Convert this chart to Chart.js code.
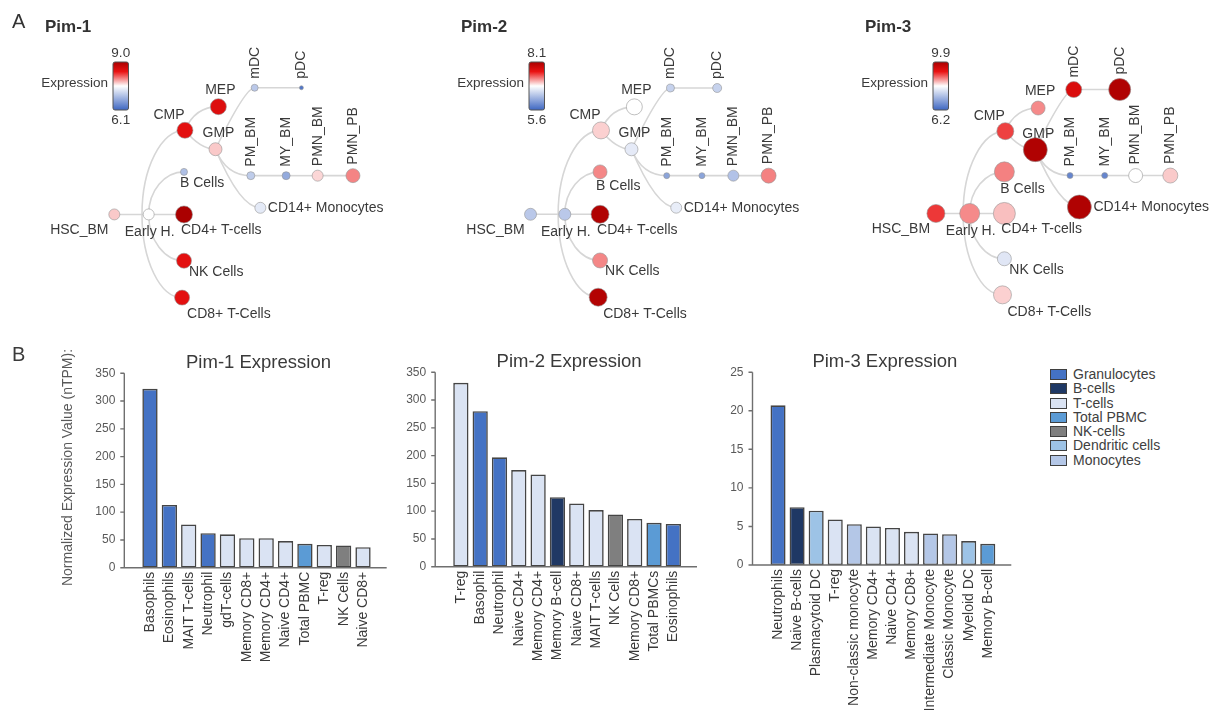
<!DOCTYPE html>
<html>
<head>
<meta charset="utf-8">
<script src="https://cdn.jsdelivr.net/npm/chart.js@4/dist/chart.umd.min.js"></script>
<style>
  body { margin: 0; background: #fff; width: 1231px; height: 710px; overflow: hidden; position: relative; font-family: "Liberation Sans", Arial, sans-serif; }
  .panel { position: absolute; }
  #legend { position: absolute; left: 1050px; top: 367px; font-size: 14px; line-height: 14.3px; color: #404040; }
  #legend .row { height: 14.3px; white-space: nowrap; }
  #legend .sw { display: inline-block; width: 15px; height: 9px; border: 1px solid #3f3f3f; margin-right: 6px; vertical-align: -1px; }
</style>
</head>
<body>
<div class="panel" style="left:0;top:0;width:410px;height:340px"><canvas id="tree1"></canvas></div>
<div class="panel" style="left:416px;top:0;width:410px;height:340px"><canvas id="tree2"></canvas></div>
<div class="panel" style="left:820px;top:0;width:410px;height:340px"><canvas id="tree3"></canvas></div>
<div class="panel" style="left:0;top:340px;width:400px;height:370px"><canvas id="bar1"></canvas></div>
<div class="panel" style="left:400px;top:340px;width:310px;height:370px"><canvas id="bar2"></canvas></div>
<div class="panel" style="left:700px;top:340px;width:340px;height:370px"><canvas id="bar3"></canvas></div>
<div id="legend"></div>
<script>
// ---- panel A: differentiation tree (shared layout) ----
const treeNodes = ['HSC_BM', 'Early H.', 'CD4+ T-cells', 'NK Cells', 'CD8+ T-Cells', 'B Cells', 'CMP', 'MEP', 'GMP',
  'mDC', 'pDC', 'PM_BM', 'MY_BM', 'PMN_BM', 'PMN_PB', 'CD14+ Monocytes'];
const treeX = [110, 146, 183, 183, 181, 183, 184, 219, 216, 257, 306, 253, 290, 323, 360, 263];
const treeY = [217, 217, 217, 266, 305, 172, 128, 103, 148, 83, 83, 176, 176, 176, 176, 210];
const treeParent = [-1, 0, 1, 1, 1, 1, 1, 6, 6, 8, 9, 8, 11, 12, 13, 8];

const pim1Range = [6.1, 9.0];
const pim1Expr = [7.75, 7.55, 9.0, 8.48, 8.48, 6.95, 8.48, 8.54, 7.75, 7.03, 6.25, 7.06, 6.74, 7.7, 8.0, 7.35];
const pim1Size = [5.5, 5.5, 8.5, 7.5, 7.5, 3.5, 8, 8, 6.5, 3.5, 2, 4, 4, 5.5, 7, 5.5];

const pim2Range = [5.6, 8.1];
const pim2Expr = [6.4, 6.4, 8.05, 7.23, 8.03, 7.23, 7.0, 6.85, 6.68, 6.48, 6.48, 6.1, 6.1, 6.35, 7.25, 6.7];
const pim2Size = [6, 6, 9, 7.5, 9, 7, 8.5, 8, 6.5, 4, 4.5, 3, 3, 5.5, 7.5, 5.5];

const pim3Range = [6.2, 9.9];
const pim3Expr = [8.98, 8.6, 8.35, 7.75, 8.27, 8.64, 8.94, 8.6, 9.83, 9.35, 9.83, 6.57, 6.57, 8.05, 8.3, 9.83];
const pim3Size = [9, 10, 11, 7, 9, 10, 8.5, 7, 12, 8, 11, 3, 3, 7, 7.5, 12];

// ---- panel B: normalized expression (nTPM) ----
const groupNames = ['Granulocytes', 'B-cells', 'T-cells', 'Total PBMC', 'NK-cells', 'Dendritic cells', 'Monocytes'];
const groupColors = ['#4472c4', '#1f3864', '#dae3f3', '#5b9bd5', '#7f7f7f', '#9dc3e6', '#b4c7e7'];

const pim1Cells = ['Basophils', 'Eosinophils', 'MAIT T-cells', 'Neutrophil', 'gdT-cells', 'Memory CD8+', 'Memory CD4+',
  'Naive CD4+', 'Total PBMC', 'T-reg', 'NK Cells', 'Naive CD8+'];
const pim1Values = [322, 113, 78, 62, 60, 53, 53, 48, 43, 41, 40, 37];
const pim1Groups = ['Granulocytes', 'Granulocytes', 'T-cells', 'Granulocytes', 'T-cells', 'T-cells', 'T-cells',
  'T-cells', 'Total PBMC', 'T-cells', 'NK-cells', 'T-cells'];

const pim2Cells = ['T-reg', 'Basophil', 'Neutrophil', 'Naive CD4+', 'Memory CD4+', 'Memory B-cell', 'Naive CD8+',
  'MAIT T-cells', 'NK Cells', 'Memory CD8+', 'Total PBMCs', 'Eosinophils'];
const pim2Values = [331, 280, 197, 174, 166, 125, 114, 102, 94, 86, 79, 77];
const pim2Groups = ['T-cells', 'Granulocytes', 'Granulocytes', 'T-cells', 'T-cells', 'B-cells', 'T-cells',
  'T-cells', 'NK-cells', 'T-cells', 'Total PBMC', 'Granulocytes'];

const pim3Cells = ['Neutrophils', 'Naive B-cells', 'Plasmacytoid DC', 'T-reg', 'Non-classic monocyte', 'Memory CD4+',
  'Naive CD4+', 'Memory CD8+', 'Intermediate Monocyte', 'Classic Monocyte', 'Myeloid DC', 'Memory B-cell'];
const pim3Values = [20.7, 7.5, 7.05, 5.9, 5.3, 5.0, 4.8, 4.3, 4.1, 4.0, 3.1, 2.75];
const pim3Groups = ['Granulocytes', 'B-cells', 'Dendritic cells', 'T-cells', 'Monocytes', 'T-cells',
  'T-cells', 'T-cells', 'Monocytes', 'Monocytes', 'Dendritic cells', 'Total PBMC'];

const FONT = '"Liberation Sans", Arial, sans-serif';
Chart.defaults.font.family = FONT;

const HEAT_STOPS = [[0, [62, 103, 194]], [0.5, [255, 255, 255]], [0.8, [234, 18, 18]], [1, [170, 0, 0]]];
function heat(f) {
  f = Math.max(0, Math.min(1, f));
  for (let i = 1; i < HEAT_STOPS.length; i++) {
    const [f0, c0] = HEAT_STOPS[i - 1];
    const [f1, c1] = HEAT_STOPS[i];
    if (f <= f1) {
      const t = (f - f0) / (f1 - f0);
      return 'rgb(' + c0.map((c, k) => Math.round(c + (c1[k] - c) * t)).join(',') + ')';
    }
  }
}

// edge shape per child node (bend 0 = quarter ellipse)
const EDGE_STYLE = {
  'CMP': { dx: -7, bend: 0 }, 'CD8+ T-Cells': { dx: -7, bend: 0 },
  'B Cells': { bend: 0 }, 'NK Cells': { bend: 0 },
  'MEP': { bend: 0.3 }, 'GMP': { bend: 0.5 }, 'mDC': { bend: 0.76 },
  'PM_BM': { bend: 0.3 }, 'CD14+ Monocytes': { bend: 0.55 }
};
const LABEL_POS = {
  'HSC_BM': { dx: -35, dy: 16, align: 'center' },
  'Early H.': { dx: 1, dy: 18, align: 'center' },
  'CD4+ T-cells': { dx: -3, dy: 16, align: 'left' },
  'NK Cells': { dx: 5, dy: 11, align: 'left' },
  'CD8+ T-Cells': { dx: 5, dy: 17, align: 'left' },
  'B Cells': { dx: -4, dy: 7.5, align: 'left', growY: true },
  'CMP': { dx: -16, dy: -15, align: 'center' },
  'MEP': { dx: 2, dy: -17, align: 'center' },
  'GMP': { dx: 3, dy: -16, align: 'center' },
  'CD14+ Monocytes': { dx: 2, dy: 0, align: 'left', growX: true }
};

const treePlugin = {
  id: 'tree',
  beforeDatasetsDraw(chart) {
    const { ctx, scales: { x: xs, y: ys } } = chart;
    ctx.save();
    ctx.strokeStyle = '#d6d6d6';
    ctx.lineWidth = 1.6;
    treeParent.forEach((p, i) => {
      if (p < 0) return;
      const st = EDGE_STYLE[treeNodes[i]] || {};
      const sx = xs.getPixelForValue(treeX[p] + (st.dx || 0)), sy = ys.getPixelForValue(treeY[p]);
      const tx = xs.getPixelForValue(treeX[i]), ty = ys.getPixelForValue(treeY[i]);
      ctx.beginPath();
      ctx.moveTo(sx, sy);
      if (Math.abs(ty - sy) < 0.5) {
        ctx.lineTo(tx, ty);
      } else if (st.bend === 0) {
        const k = 0.5523;
        ctx.bezierCurveTo(sx, sy + k * (ty - sy), tx - k * (tx - sx), ty, tx, ty);
      } else {
        ctx.quadraticCurveTo(sx + (st.bend || 0.5) * (tx - sx), ty, tx, ty);
      }
      ctx.stroke();
    });
    ctx.restore();
  },
  afterDatasetsDraw(chart, args, opts) {
    const { ctx, scales: { x: xs, y: ys } } = chart;
    const pts = chart.data.datasets[0].data;
    ctx.save();
    ctx.fillStyle = '#3a3a3a';
    ctx.font = '14px ' + FONT;
    ctx.textBaseline = 'middle';
    treeNodes.forEach((name, i) => {
      const px = xs.getPixelForValue(treeX[i]), py = ys.getPixelForValue(treeY[i]);
      const r = pts[i].r;
      const lp = LABEL_POS[name];
      if (!lp) {
        ctx.save();
        ctx.translate(px, py - Math.max(9, r + 4));
        ctx.rotate(-Math.PI / 2);
        ctx.textAlign = 'left';
        ctx.fillText(name, 0, 0);
        ctx.restore();
        return;
      }
      ctx.textAlign = lp.align;
      ctx.fillText(name, px + lp.dx + (lp.growX ? r : 0), py + lp.dy + (lp.growY ? r : 0));
    });

    // title and panel letter
    ctx.textAlign = 'left';
    ctx.fillStyle = '#333';
    ctx.font = 'bold 17px ' + FONT;
    ctx.fillText(opts.title, 45, 27);
    if (opts.letter) {
      ctx.font = '20px ' + FONT;
      ctx.fillText(opts.letter, 12, 22);
    }

    // colour bar
    const [lo, hi] = opts.range;
    const bx = 113, by = 62, bw = 15.5, bh = 48;
    const grad = ctx.createLinearGradient(0, by + bh, 0, by);
    HEAT_STOPS.forEach(s => grad.addColorStop(s[0], heat(s[0])));
    ctx.fillStyle = grad;
    ctx.beginPath();
    ctx.roundRect(bx, by, bw, bh, 2);
    ctx.fill();
    ctx.strokeStyle = '#555';
    ctx.lineWidth = 1;
    ctx.stroke();
    ctx.fillStyle = '#3a3a3a';
    ctx.font = '13.5px ' + FONT;
    ctx.textAlign = 'center';
    ctx.fillText(hi.toFixed(1), bx + bw / 2, by - 9);
    ctx.fillText(lo.toFixed(1), bx + bw / 2, by + bh + 10);
    ctx.textAlign = 'right';
    ctx.fillText('Expression', bx - 5, by + 21);
    ctx.restore();
  }
};

function treeChart(id, title, expr, size, range, letter) {
  const [lo, hi] = range;
  new Chart(document.getElementById(id), {
    type: 'bubble',
    data: {
      datasets: [{
        data: treeNodes.map((n, i) => ({ x: treeX[i], y: treeY[i], r: size[i] })),
        backgroundColor: expr.map(v => heat((v - lo) / (hi - lo))),
        borderColor: 'rgba(150,150,150,0.75)',
        borderWidth: 0.8,
        clip: false
      }]
    },
    options: {
      responsive: true, maintainAspectRatio: false, animation: false, events: [],
      layout: { padding: 0 },
      scales: {
        x: { type: 'linear', min: 0, max: 410, display: false },
        y: { type: 'linear', min: 0, max: 340, reverse: true, display: false }
      },
      plugins: { legend: { display: false }, tooltip: { enabled: false }, tree: { title, range, letter } }
    },
    plugins: [treePlugin]
  });
}

// axis lines, tick marks, titles for the bar panels
const barDecor = {
  id: 'barDecor',
  afterDraw(chart, args, opts) {
    const { ctx, chartArea: a, scales: { y } } = chart;
    const ax = a.left - 16, ex = a.right + 14;
    ctx.save();
    ctx.strokeStyle = '#6f6f6f';
    ctx.lineWidth = 1.4;
    ctx.beginPath();
    ctx.moveTo(ax, a.top);
    ctx.lineTo(ax, a.bottom);
    ctx.lineTo(ex, a.bottom);
    y.ticks.forEach(t => {
      const py = y.getPixelForValue(t.value);
      ctx.moveTo(ax - 4, py);
      ctx.lineTo(ax, py);
    });
    ctx.stroke();

    ctx.fillStyle = '#3a3a3a';
    ctx.font = '18.5px ' + FONT;
    ctx.textAlign = 'center';
    ctx.textBaseline = 'middle';
    ctx.fillText(opts.title, (a.left + a.right) / 2 + 2, a.top - 10);
    if (opts.yTitle) {
      ctx.save();
      ctx.translate(68, (a.top + a.bottom) / 2 - 3);
      ctx.rotate(-Math.PI / 2);
      ctx.fillStyle = '#595959';
      ctx.font = '14px ' + FONT;
      ctx.fillText(opts.yTitle, 0, 0);
      ctx.restore();
    }
    if (opts.letter) {
      ctx.font = '20px ' + FONT;
      ctx.textAlign = 'left';
      ctx.fillText(opts.letter, 12, 15);
    }
    ctx.restore();
  }
};

function barChart(id, title, cells, values, groups, yMax, yStep, box, extra) {
  new Chart(document.getElementById(id), {
    type: 'bar',
    data: {
      labels: cells,
      datasets: [{
        data: values,
        backgroundColor: groups.map(g => groupColors[groupNames.indexOf(g)]),
        borderColor: '#454545',
        borderWidth: 1.6,
        borderSkipped: false,
        categoryPercentage: 1,
        barPercentage: 0.79
      }]
    },
    options: {
      responsive: true, maintainAspectRatio: false, animation: false, events: [],
      layout: { padding: { top: box.top, right: box.w - box.right, left: 0, bottom: 0 } },
      plugins: {
        legend: { display: false }, tooltip: { enabled: false },
        barDecor: Object.assign({ title }, extra)
      },
      scales: {
        x: {
          grid: { display: false, drawTicks: false }, border: { display: false },
          ticks: { autoSkip: false, minRotation: 90, maxRotation: 90, padding: 4, color: '#3a3a3a', font: { size: 14 } },
          afterFit: s => { s.height = box.h - box.bottom; }
        },
        y: {
          min: 0, max: yMax,
          grid: { display: false, drawTicks: false }, border: { display: false },
          ticks: { stepSize: yStep, padding: 25, color: '#595959', font: { size: 12 } },
          afterFit: s => { s.width = box.left; }
        }
      }
    },
    plugins: [barDecor]
  });
}

treeChart('tree1', 'Pim-1', pim1Expr, pim1Size, pim1Range, 'A');
treeChart('tree2', 'Pim-2', pim2Expr, pim2Size, pim2Range, '');
treeChart('tree3', 'Pim-3', pim3Expr, pim3Size, pim3Range, '');

barChart('bar1', 'Pim-1 Expression', pim1Cells, pim1Values, pim1Groups, 350, 50,
  { w: 400, h: 370, left: 140.3, right: 372.7, top: 33.3, bottom: 227.7 },
  { yTitle: 'Normalized Expression Value (nTPM):', letter: 'B' });
barChart('bar2', 'Pim-2 Expression', pim2Cells, pim2Values, pim2Groups, 350, 50,
  { w: 310, h: 370, left: 51.2, right: 283, top: 32.3, bottom: 226.7 }, {});
barChart('bar3', 'Pim-3 Expression', pim3Cells, pim3Values, pim3Groups, 25, 5,
  { w: 340, h: 370, left: 68.5, right: 297.3, top: 31, bottom: 225 }, {});

const legend = document.getElementById('legend');
legend.innerHTML = groupNames.map((g, i) =>
  `<div class="row"><span class="sw" style="background:${groupColors[i]}"></span>${g}</div>`).join('');
</script>
</body>
</html>
